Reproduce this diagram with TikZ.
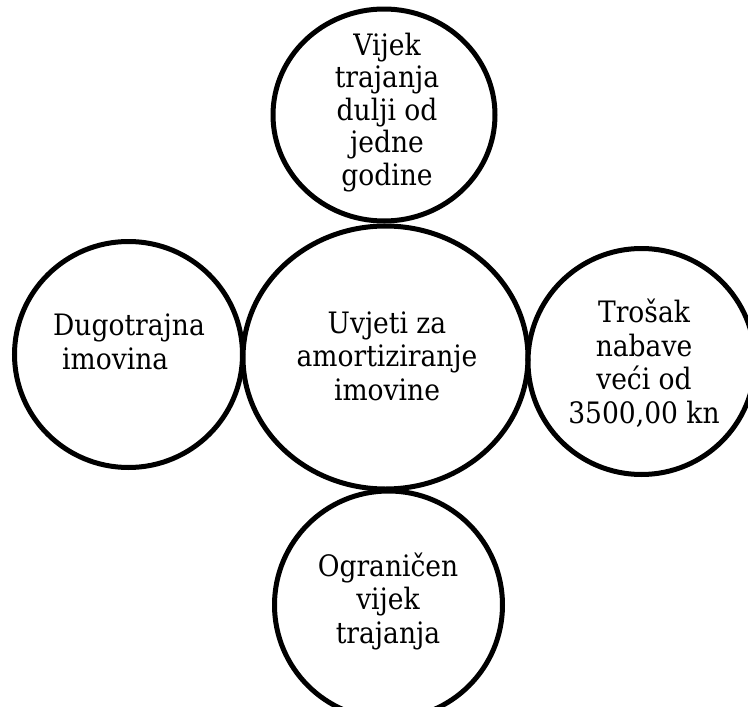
\documentclass[tikz,border=0pt]{standalone}
\usepackage{fontspec}
\setmainfont{DejaVu Serif Condensed}
\usetikzlibrary{shapes.geometric}
\newcommand\dfont{\fontsize{29.5}{33.5}\selectfont}
\newcommand\dfontt{\fontsize{29.5}{32.5}\selectfont}
\begin{document}
\begin{tikzpicture}[x=1pt,y=-1pt,
  circ/.style={ellipse, draw=black, line width=5pt, fill=white, inner sep=0pt},
  txt/.style={font=\dfont, align=center, inner sep=0pt, anchor=base},
  link/.style={draw=black, line width=2.5pt}]
\useasboundingbox (0,0) rectangle (748,707);
\fill[white] (0,0) rectangle (748,707);
\clip (0,0) rectangle (748,707);
\node[circ, minimum width=285pt, minimum height=263pt] (C) at (385.5,357.5) {};
\node[circ, minimum width=222pt, minimum height=212pt] (T) at (384,115) {};
\node[circ, minimum width=228pt, minimum height=226pt] (L) at (128.5,354.5) {};
\node[circ, minimum width=227pt, minimum height=226pt] (R) at (641.5,361.5) {};
\node[circ, minimum width=228pt, minimum height=228pt] (B) at (388.5,605) {};
\draw[link] (T) -- (C);
\draw[link] (L) -- (C);
\draw[link] (R) -- (C);
\draw[link] (B) -- (C);
\node[txt, font=\dfontt] (Tt) at (387,185) {Vijek\\trajanja\\dulji od\\jedne\\godine};
\node[txt] (Ct) at (387,400) {Uvjeti za\\amortiziranje\\imovine};
\node[txt, align=left, anchor=base west] (Lt) at (53,369) {Dugotrajna\\\hspace*{9pt}imovina};
\node[txt] (Rt) at (644,423) {Trošak\\nabave\\veći od\\3500,00 kn};
\node[txt] (Bt) at (388,643) {Ograničen\\vijek\\trajanja};
\end{tikzpicture}
\end{document}
